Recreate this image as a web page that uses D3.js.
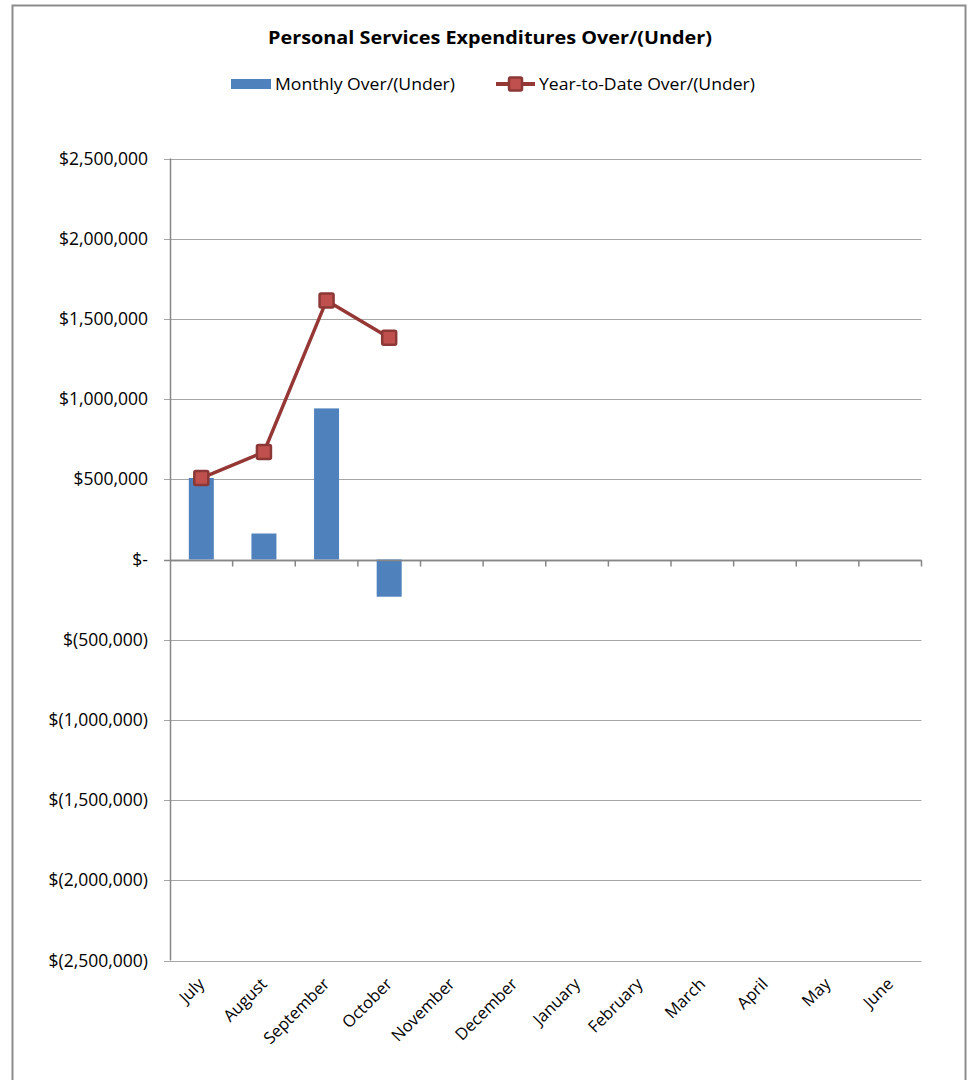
<!DOCTYPE html>
<html><head><meta charset="utf-8">
<script src="https://cdn.jsdelivr.net/npm/d3@7"></script>
<style>body{margin:0;background:#fff}svg{display:block}text{font-family:"Open Sans","Liberation Sans",sans-serif}</style>
</head><body><svg id="c" width="969" height="1080"></svg>
<script>
const months = ["July","August","September","October","November","December","January","February","March","April","May","June"];
const monthly = [508000, 162000, 942000, -232000];
const ytd = [508000, 670000, 1615000, 1383000];
const yTicks = [2500000, 2000000, 1500000, 1000000, 500000, 0, -500000, -1000000, -1500000, -2000000, -2500000];
const title = "Personal Services Expenditures Over/(Under)";
const legendLabels = ["Monthly Over/(Under)", "Year-to-Date Over/(Under)"];

const svg = d3.select("#c");
const L = 170, R = 921.5, T = 158.5, B = 960.5;
const x = d3.scaleBand().domain(months).range([L, R]);
const y = d3.scaleLinear().domain([-2500000, 2500000]).range([B, T]);

// border
svg.append("rect").attr("x",12.5).attr("y",5.5).attr("width",953).attr("height",1090)
  .attr("fill","none").attr("stroke","#8c8c8c").attr("stroke-width",2);

// gridlines
svg.append("g").selectAll("line").data(yTicks).join("line")
  .attr("x1",L-6).attr("x2",R).attr("y1",d=>Math.round(y(d))+0.5).attr("y2",d=>Math.round(y(d))+0.5)
  .attr("stroke",d=>d===0?"#868686":"#a6a6a6").attr("stroke-width",d=>d===0?1.5:1.2);

// y axis labels
const fmt = d => d===0 ? "$-" : (d<0 ? "$(" + d3.format(",")(-d) + ")" : "$" + d3.format(",")(d));
svg.append("g").selectAll("text").data(yTicks).join("text")
  .attr("x",148).attr("y",d=>y(d)+6).attr("text-anchor","end")
  .attr("font-size",17.5).attr("fill","#000").text(fmt);

// y axis line
svg.append("line").attr("x1",L+0.5).attr("x2",L+0.5).attr("y1",T).attr("y2",B).attr("stroke","#868686").attr("stroke-width",1.5);

// bars
const bw = 25;
svg.append("g").selectAll("rect").data(monthly).join("rect")
  .attr("x",(d,i)=>x(months[i])+x.bandwidth()/2-bw/2)
  .attr("width",bw)
  .attr("y",d=>Math.min(y(d),y(0)))
  .attr("height",d=>Math.abs(y(d)-y(0)))
  .attr("fill","#4f81bd");

// x axis line and ticks
const y0 = Math.round(y(0))+0.5;
svg.append("line").attr("x1",L).attr("x2",R).attr("y1",y0).attr("y2",y0).attr("stroke","#868686").attr("stroke-width",1.5);
const bounds = months.map(m=>x(m)).concat([R]);
svg.append("g").selectAll("line").data(bounds.slice(1)).join("line")
  .attr("x1",d=>d).attr("x2",d=>d).attr("y1",y0).attr("y2",y0+6).attr("stroke","#868686").attr("stroke-width",1.5);

// x labels
svg.append("g").selectAll("text").data(months).join("text")
  .attr("transform",d=>`translate(${x(d)+x.bandwidth()/2+4},${985}) rotate(-45)`)
  .attr("text-anchor","end").attr("font-size",16.5).attr("fill","#000").text(d=>d);

// ytd line
const line = d3.line().x((d,i)=>x(months[i])+x.bandwidth()/2).y(d=>y(d));
svg.append("path").datum(ytd).attr("d",line).attr("fill","none").attr("stroke","#953735").attr("stroke-width",3.5);
svg.append("g").selectAll("rect").data(ytd).join("rect")
  .attr("x",(d,i)=>x(months[i])+x.bandwidth()/2-7).attr("y",d=>y(d)-7)
  .attr("width",14).attr("height",14).attr("rx",1.5)
  .attr("fill","#c0504d").attr("stroke","#8c3836").attr("stroke-width",2.5);

// title
svg.append("text").attr("x",490).attr("y",44).attr("text-anchor","middle")
  .attr("font-size",18).attr("font-weight","bold").attr("fill","#000")
  .attr("textLength",444).attr("lengthAdjust","spacingAndGlyphs").text(title);

// legend
svg.append("rect").attr("x",231).attr("y",79).attr("width",40).attr("height",10).attr("fill","#4f81bd");
svg.append("text").attr("x",275).attr("y",90).attr("font-size",16).attr("fill","#000")
  .attr("textLength",180).attr("lengthAdjust","spacingAndGlyphs").text(legendLabels[0]);
svg.append("line").attr("x1",496).attr("x2",535).attr("y1",84).attr("y2",84).attr("stroke","#953735").attr("stroke-width",4);
svg.append("rect").attr("x",509).attr("y",77.5).attr("width",13).attr("height",13).attr("rx",1.5)
  .attr("fill","#c0504d").attr("stroke","#8c3836").attr("stroke-width",2.5);
svg.append("text").attr("x",539).attr("y",90).attr("font-size",16).attr("fill","#000")
  .attr("textLength",216).attr("lengthAdjust","spacingAndGlyphs").text(legendLabels[1]);
</script></body></html>
